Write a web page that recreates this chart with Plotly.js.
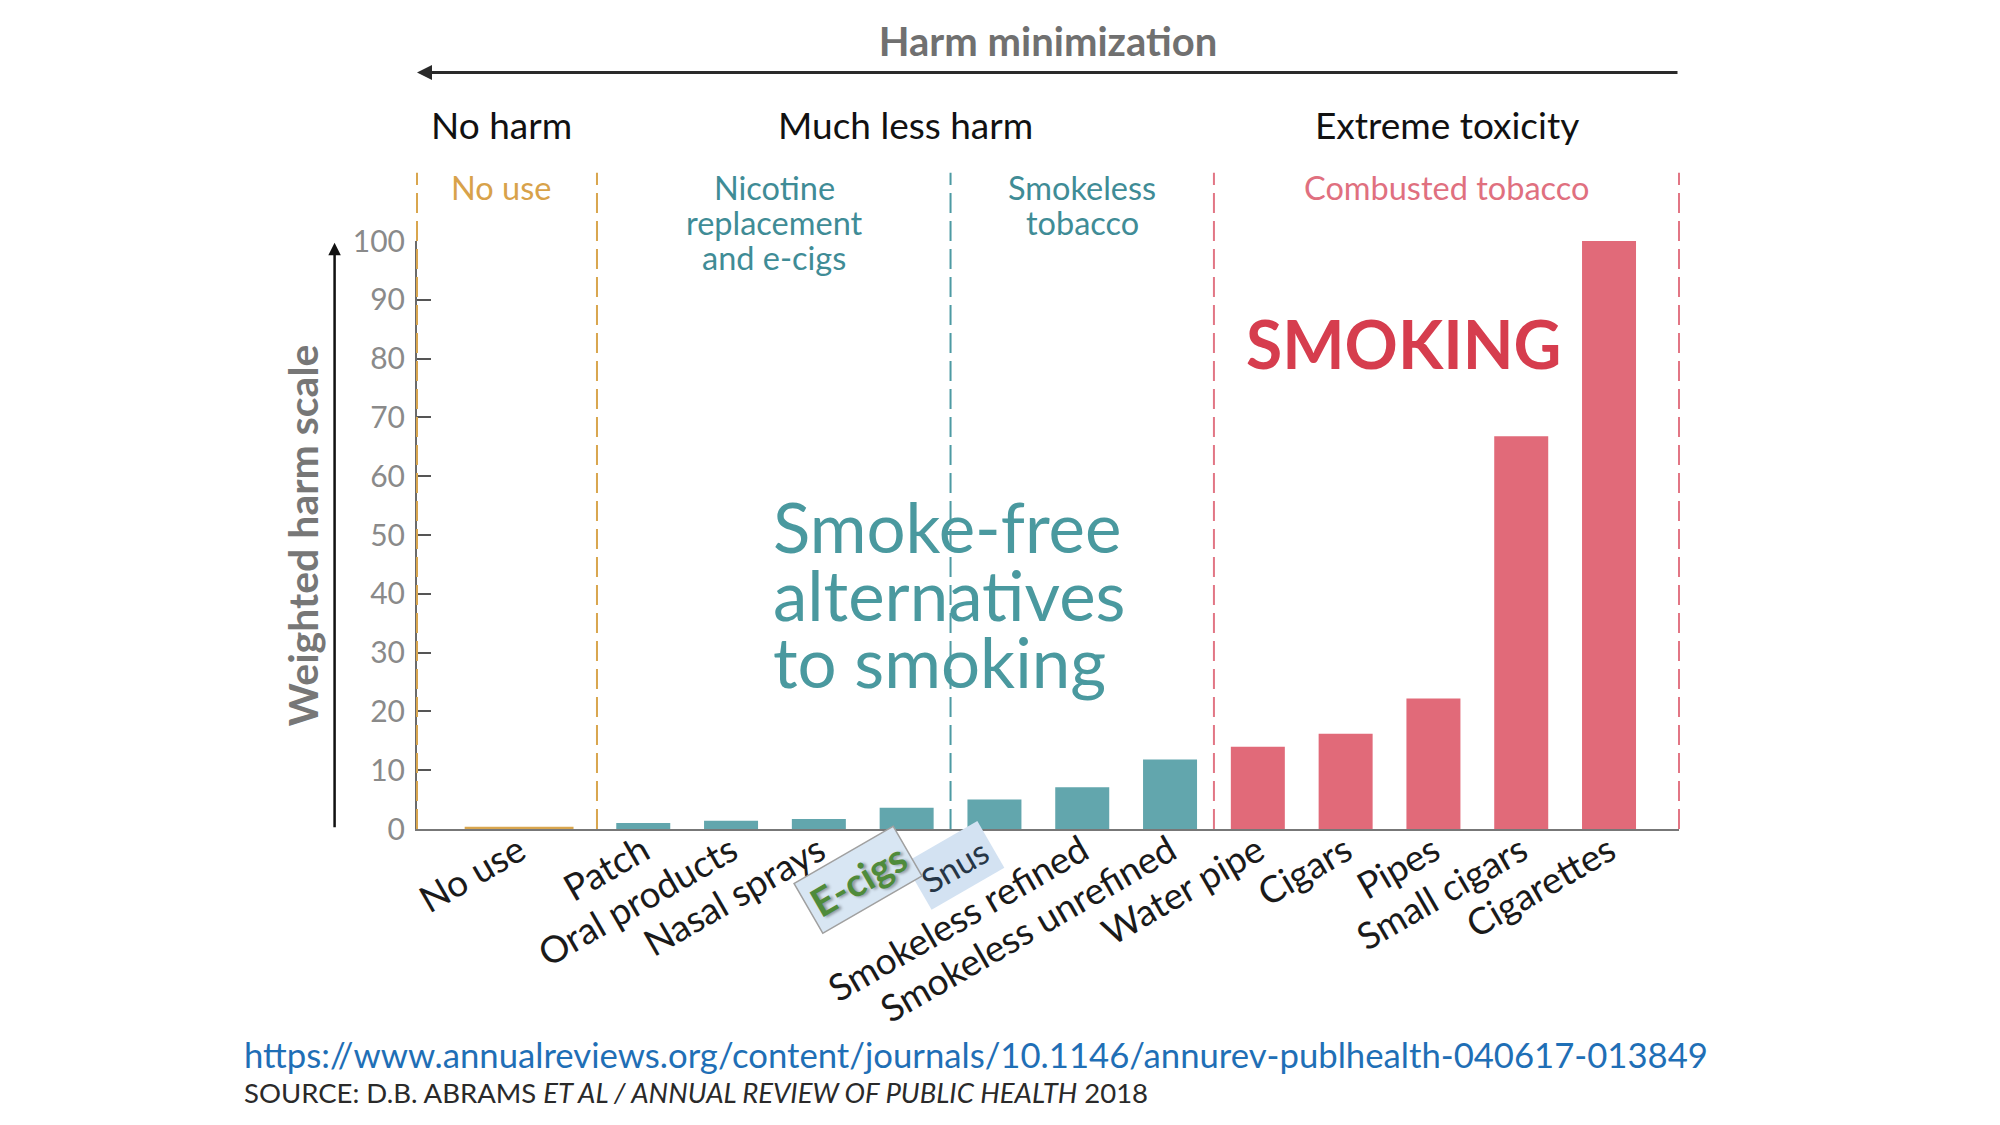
<!DOCTYPE html>
<html>
<head>
<meta charset="utf-8">
<script src="https://cdn.plot.ly/plotly-3.0.1.min.js"></script>
<style>
  html, body { margin: 0; padding: 0; background: #ffffff; }
  #chart { width: 2000px; height: 1125px; }
</style>
</head>
<body>
<div id="chart"></div>
<script>
// Weighted harm scores of nicotine and tobacco products
const categories = ['No use', 'Patch', 'Oral products', 'Nasal sprays', 'E-cigs', 'Snus',
  'Smokeless refined', 'Smokeless unrefined', 'Water pipe', 'Cigars', 'Pipes', 'Small cigars', 'Cigarettes'];
const harmScores = [0.4, 1.0, 1.4, 1.7, 3.6, 5.0, 7.1, 11.8, 14.0, 16.2, 22.2, 66.8, 100];
const productClass = ['none', 'nicotine', 'nicotine', 'nicotine', 'nicotine', 'smokeless',
  'smokeless', 'smokeless', 'combusted', 'combusted', 'combusted', 'combusted', 'combusted'];
const yTickValues = [0, 10, 20, 30, 40, 50, 60, 70, 80, 90, 100];
const boxedLabels = ['E-cigs', 'Snus'];

const FONT = 'Lato, "Open Sans", sans-serif';
const classColor = { none: '#d9a64e', nicotine: '#62a6ad', smokeless: '#62a6ad', combusted: '#e16a79' };

// "No use" sits a little apart from the product slots
const noUseGap = 1.414;
const xSlots = categories.map((c, i) => (i === 0 ? 1 - noUseGap : i));
const barWidths = productClass.map(c => (c === 'none' ? 1.24 : 0.615));
const slotOf = name => xSlots[categories.indexOf(name)];

const bars = {
  type: 'bar',
  x: xSlots,
  y: harmScores,
  width: barWidths,
  marker: { color: productClass.map(c => classColor[c]), line: { width: 0 } },
  hoverinfo: 'skip',
  showlegend: false
};

const xMin = -1.577, xMax = 12.797;
const dashTop = 1.116;

// dashed section dividers
const dividers = [
  { x: 0, xref: 'paper', color: '#d9a64e' },
  { x: 0.473, xref: 'x', color: '#d9a64e' },
  { x: 4.5, xref: 'x', color: '#4d9aa3' },
  { x: 7.5, xref: 'x', color: '#e27685' },
  { x: 1, xref: 'paper', color: '#e27685' }
];
const shapes = dividers.map(d => ({
  type: 'line', xref: d.xref, yref: 'paper',
  x0: d.x, x1: d.x, y0: 0, y1: dashTop,
  line: { color: d.color, width: 2, dash: '20px,8px' },
  layer: 'above'
}));

const annotations = [];

// harm minimization arrow across the top
annotations.push({
  xref: 'paper', yref: 'paper', x: 0, y: 1.2867, ax: 1262, ay: 0,
  text: '', showarrow: true, arrowhead: 2, arrowsize: 1, arrowwidth: 3, arrowcolor: '#2a2a2a'
});
// vertical arrow beside the y axis title
annotations.push({
  xref: 'paper', yref: 'paper', x: -0.0653, y: 0.997, ax: 0, ay: 586,
  text: '', showarrow: true, arrowhead: 2, arrowsize: 1, arrowwidth: 2.5, arrowcolor: '#111111'
});
annotations.push({
  xref: 'paper', yref: 'paper', x: -0.0909, y: 0.5, xanchor: 'center', yanchor: 'middle',
  text: 'Weighted harm scale', textangle: -90, showarrow: false,
  font: { family: FONT, size: 41, color: '#777777', weight: 'bold' }
});

// harm groups
const harmGroups = [
  { text: 'No harm', x: -0.62 },
  { text: 'Much less harm', x: 3.99 },
  { text: 'Extreme toxicity', x: 10.15 }
];
harmGroups.forEach(g => annotations.push({
  xref: 'x', yref: 'paper', x: g.x, y: 1.1978, text: g.text, showarrow: false,
  xanchor: 'center', yanchor: 'middle',
  font: { family: FONT, size: 37, color: '#111111' }
}));

// product sections, one line per annotation
const sections = [
  { lines: ['No use'], x: -0.62, color: '#d8a24a' },
  { lines: ['Nicotine', 'replacement', 'and e-cigs'], x: 2.49, color: '#3f8c96' },
  { lines: ['Smokeless', 'tobacco'], x: 6.0, color: '#3f8c96' },
  { lines: ['Combusted tobacco'], x: 10.15, color: '#e0707f' }
];
const sectionLineStep = 0.0595;
sections.forEach(s => s.lines.forEach((line, k) => annotations.push({
  xref: 'x', yref: 'paper', x: s.x, y: 1.0915 - k * sectionLineStep, text: line,
  showarrow: false, xanchor: 'center', yanchor: 'middle',
  font: { family: FONT, size: 32.5, color: s.color }
})));

// callouts inside the plot
annotations.push({
  xref: 'x', yref: 'y', x: 9.654, y: 82.5, text: 'SMOKING', showarrow: false,
  xanchor: 'center', yanchor: 'middle',
  font: { family: FONT, size: 66, color: '#d63d4e', weight: 'bold' }
});
const smokeFreeLines = ['Smoke-free', 'alternatives', 'to smoking'];
smokeFreeLines.forEach((line, k) => annotations.push({
  xref: 'x', yref: 'y', x: 2.45, y: 51.4 - k * 11.45, text: line, showarrow: false,
  xanchor: 'left', yanchor: 'middle',
  font: { family: FONT, size: 69, color: '#4a999f' }
}));

// boxed tick labels (Snus first so the E-cigs box sits on top)
annotations.push({
  xref: 'x', yref: 'paper', x: slotOf('Snus') - 0.46, y: -0.062, text: 'Snus',
  showarrow: false, textangle: -30, xanchor: 'center', yanchor: 'middle',
  bgcolor: '#d3e2f2', borderpad: 6,
  font: { family: FONT, size: 34, color: '#263646' }
});
annotations.push({
  xref: 'x', yref: 'paper', x: slotOf('E-cigs') - 0.55, y: -0.086, text: 'E-cigs',
  showarrow: false, textangle: -30, xanchor: 'center', yanchor: 'middle',
  bgcolor: '#d8e6f3', bordercolor: '#a0a0a0', borderwidth: 1.5, borderpad: 5,
  font: { family: FONT, size: 39, color: '#4f8b3b', weight: 'bold', shadow: '2px 2px 3px rgba(0,0,0,0.35)' }
});

// reference lines
annotations.push({
  xref: 'paper', yref: 'paper', x: -0.1384, y: -0.3838, xanchor: 'left', yanchor: 'middle',
  text: 'https://www.annualreviews.org/content/journals/10.1146/annurev-publhealth-040617-013849',
  showarrow: false, font: { family: FONT, size: 34.7, color: '#1f6fb6' }
});
annotations.push({
  xref: 'paper', yref: 'paper', x: -0.1384, y: -0.4485, xanchor: 'left', yanchor: 'middle',
  text: 'SOURCE: D.B. ABRAMS <i>ET AL / ANNUAL REVIEW OF PUBLIC HEALTH</i> 2018',
  showarrow: false, font: { family: FONT, size: 27.5, color: '#2a2a2a' }
});

const layout = {
  width: 2000, height: 1125,
  paper_bgcolor: '#ffffff', plot_bgcolor: '#ffffff',
  margin: { l: 417, r: 321, t: 241, b: 296 },
  font: { family: FONT },
  title: {
    text: 'Harm minimization', x: 0.5, xref: 'paper', xanchor: 'center',
    y: 0.9627, yref: 'container', yanchor: 'middle',
    font: { family: FONT, size: 40, color: '#707070', weight: 'bold' }
  },
  xaxis: {
    type: 'linear', range: [xMin, xMax], fixedrange: true,
    tickmode: 'array', tickvals: xSlots,
    ticktext: categories.map(c => (boxedLabels.includes(c) ? '' : c)),
    tickangle: -30, ticks: '', showgrid: false, zeroline: false,
    showline: true, linecolor: '#777777', linewidth: 2, ticklabelstandoff: -16,
    tickfont: { family: FONT, size: 37, color: '#1a1a1a' }
  },
  yaxis: {
    range: [0, 100], fixedrange: true,
    tickmode: 'array', tickvals: yTickValues,
    ticks: 'inside', ticklen: 14, tickwidth: 2, tickcolor: '#555555',
    showline: true, linecolor: '#6a6a6a', linewidth: 2,
    showgrid: false, zeroline: false, ticklabelstandoff: 4,
    tickfont: { family: FONT, size: 30, color: '#8a8a8a' }
  },
  bargap: 0.38,
  shapes: shapes,
  annotations: annotations,
  showlegend: false
};

Plotly.newPlot('chart', [bars], layout, { staticPlot: true, displayModeBar: false });
</script>
</body>
</html>
